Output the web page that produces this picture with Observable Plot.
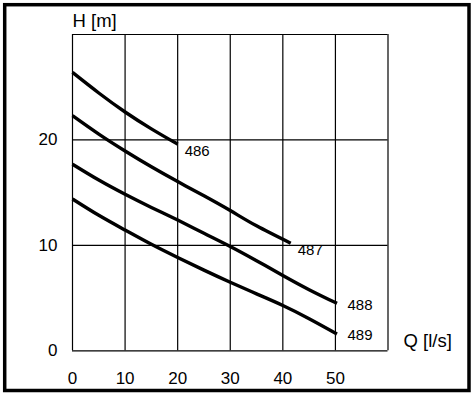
<!DOCTYPE html>
<html>
<head>
<meta charset="utf-8">
<script src="https://cdn.jsdelivr.net/npm/d3@7"></script>
<script src="https://cdn.jsdelivr.net/npm/@observablehq/plot@0.6"></script>
<style>
  html, body { margin: 0; padding: 0; background: #fff; }
  #chart { position: relative; width: 471px; height: 395px; }
</style>
</head>
<body>
<div id="chart"></div>
<script>
// Series: pump curves (Q in l/s, H in m)
const q486 = [0, 5, 10, 15, 20];
const h486 = [26.4, 24.45, 22.65, 21.05, 19.6];
const q487 = [0, 5, 10, 15, 20, 25, 30, 35, 41.5];
const h487 = [22.3, 20.55, 18.95, 17.45, 16.05, 14.7, 13.3, 11.85, 10.2];
const q488 = [0, 5, 10, 15, 20, 25, 30, 35, 40, 45, 50.3];
const h488 = [17.7, 16.2, 14.85, 13.6, 12.4, 11.15, 9.9, 8.55, 7.15, 5.8, 4.5];
const q489 = [0, 5, 10, 15, 20, 25, 30, 35, 40, 45, 50.3];
const h489 = [14.4, 12.85, 11.45, 10.1, 8.85, 7.65, 6.5, 5.4, 4.3, 3.05, 1.6];
const seriesNames = ["486", "487", "488", "489"];

const xTicks = [0, 10, 20, 30, 40, 50];
const yTicks = [0, 10, 20];
const xGrid = [0, 10, 20, 30, 40, 50, 60];
const yGrid = [0, 10, 20, 30];
const xLabel = "Q [l/s]";
const yLabel = "H [m]";

const qs = [q486, q487, q488, q489];
const hs = [h486, h487, h488, h489];
const points = [];
seriesNames.forEach((name, i) => {
  qs[i].forEach((q, j) => points.push({series: name, q, h: hs[i][j]}));
});
const ends = seriesNames.map((name, i) => ({
  series: name,
  q: qs[i][qs[i].length - 1],
  h: hs[i][hs[i].length - 1]
}));

const font = "'Liberation Sans', Arial, sans-serif";

const plot = Plot.plot({
  width: 471,
  height: 395,
  marginLeft: 72,
  marginTop: 34,
  marginRight: 83.5,
  marginBottom: 44.7,
  style: {fontFamily: font, background: "#fff", color: "#000", overflow: "visible"},
  x: {domain: [0, 60]},
  y: {domain: [0, 30]},
  marks: [
    Plot.ruleX(xGrid, {stroke: "#000", strokeWidth: 1.2}),
    Plot.ruleY(yGrid, {stroke: "#000", strokeWidth: 1.2}),
    Plot.line(points, {
      x: "q", y: "h", z: "series",
      stroke: "#000", strokeWidth: 3.4, curve: "natural",
      strokeLinecap: "butt"
    }),
    Plot.axisX({ticks: xTicks, tickSize: 0, tickPadding: 21, fontSize: 17, label: null}),
    Plot.axisY({ticks: yTicks, tickSize: 0, tickPadding: 15, fontSize: 17, label: null}),
    Plot.text(ends.filter(d => d.series === "486" || d.series === "487"), {
      x: "q", y: "h", text: "series",
      textAnchor: "start", dx: 7, dy: 7, fontSize: 15, fill: "#000"
    }),
    Plot.text(ends.filter(d => d.series === "488" || d.series === "489"), {
      x: "q", y: "h", text: "series",
      textAnchor: "start", dx: 10.5, dy: 1.5, fontSize: 15, fill: "#000"
    }),
    Plot.text([yLabel], {
      frameAnchor: "top-left", text: d => d, textAnchor: "start",
      lineAnchor: "middle", dx: 0, dy: -13.7, fontSize: 18.5, fill: "#000"
    }),
    Plot.text([xLabel], {
      frameAnchor: "bottom-right", text: d => d, textAnchor: "start",
      lineAnchor: "middle", dx: 15.5, dy: -9.3, fontSize: 18.5, fill: "#000"
    })
  ]
});

// outer border of the figure
d3.select(plot).append("rect")
  .attr("x", 4.7).attr("y", 4.7)
  .attr("width", 464.3).attr("height", 385.8)
  .attr("fill", "none").attr("stroke", "#000").attr("stroke-width", 3.5);

document.getElementById("chart").appendChild(plot);
</script>
</body>
</html>
